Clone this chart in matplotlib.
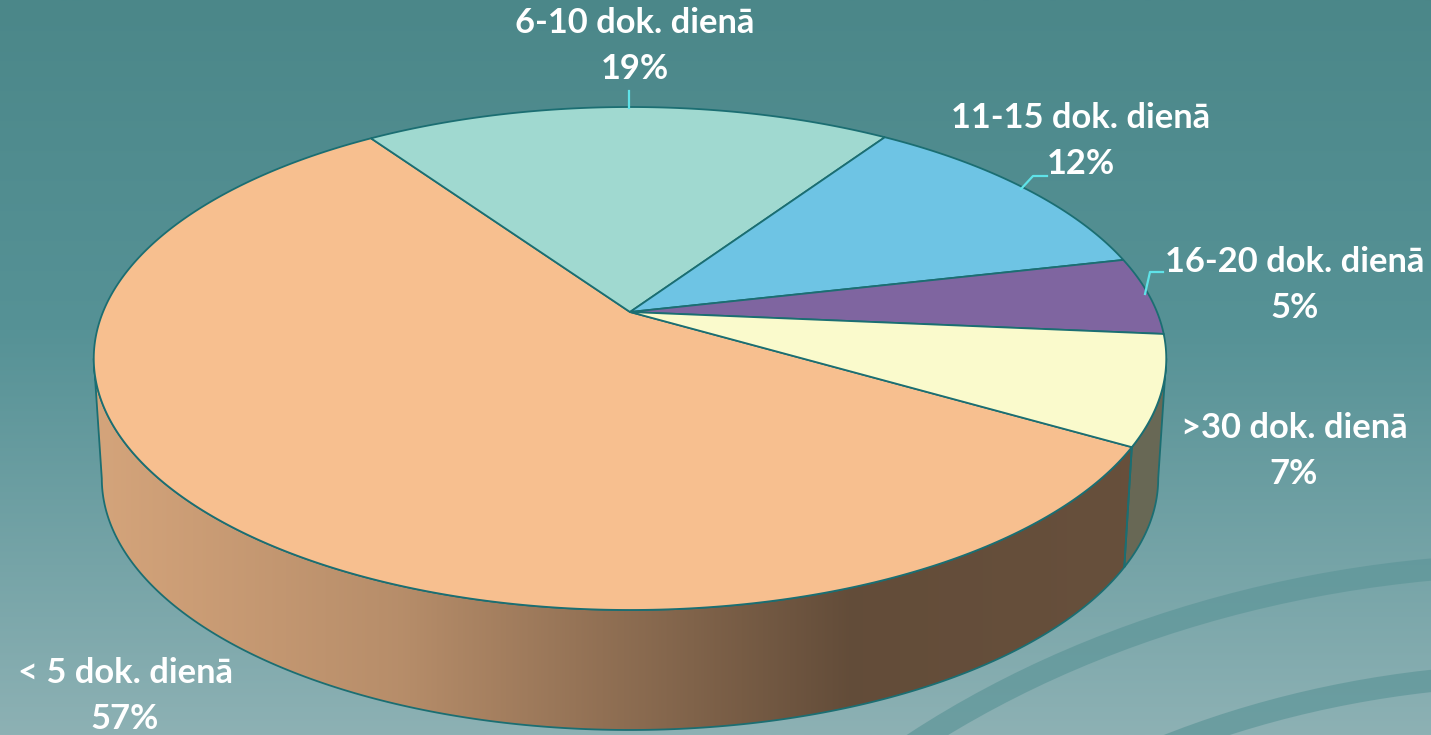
import numpy as np
import matplotlib.pyplot as plt
from matplotlib.patches import Polygon, Ellipse
from matplotlib.colors import LinearSegmentedColormap, to_rgb

# data
categories = ['< 5 dok. dienā', '6-10 dok. dienā', '11-15 dok. dienā',
              '16-20 dok. dienā', '>30 dok. dienā']
shares = [57, 19, 12, 5, 7]
top_colors = ['#F7BF8F', '#A0D9D0', '#6EC4E4', '#7F65A0', '#FAFACC']

# layout (pixels)
W, H = 1431, 735
cx, a = 630, 527            # centre x, half width of the top face
A, B, C = 185.2, 312, -0.1849   # perspective mapping for y
depth, shrink = 120, 0.985
start = 329.7               # degrees, slices go clockwise
edge = '#1B6E72'

label_pos = [(125, 696), (635, 46), (1081, 141), (1295, 285), (1294, 451)]
leaders = [None, [(629, 108), (629, 91)],
           [(1021, 189), (1033, 176), (1047, 176)],
           [(1145, 294), (1150, 272), (1163, 272)], None]


def top_pt(th):
    u, v = np.cos(th), -np.sin(th)
    d = 1 + C * v
    return cx + a * u / d, (A * v + B) / d


def bot_pt(th):
    x, y = top_pt(th)
    return cx + (x - cx) * shrink, y + depth


fig = plt.figure(figsize=(W / 100, H / 100), dpi=100)
ax = fig.add_axes([0, 0, 1, 1])
ax.set_xlim(0, W)
ax.set_ylim(H, 0)
ax.axis('off')

# background
bg = LinearSegmentedColormap.from_list('bg', [(0, '#4B8789'), (0.45, '#569296'), (1, '#8DB1B4')])
ax.imshow(np.linspace(0, 1, 256)[:, None], cmap=bg, aspect='auto',
          extent=(0, W, H, 0), zorder=0)
for s in (1.0, 0.85):
    ax.add_patch(Ellipse((1550, 1300), 2 * 972 * s, 2 * 736 * s, fill=False,
                         ec='#5E9699', lw=16, alpha=0.7, zorder=1))

# angles
bounds = []
th = start
for v in shares:
    bounds.append((th - v * 3.6, th))
    th -= v * 3.6

vis_hi = np.degrees(np.arcsin(C))
vis_lo = -180 - vis_hi

# sides
xs = np.linspace(0, W, 600)
shade = np.interp(xs, [95, 400, 850, 1170], [0.86, 0.74, 0.40, 0.42])
for (t1, t0), col in zip(bounds, top_colors):
    for k in (-1, 0, 1):
        lo = max(t1, vis_lo + 360 * k)
        hi = min(t0, vis_hi + 360 * k)
        if lo >= hi:
            continue
        t = np.radians(np.linspace(lo, hi, 200))
        tx, ty = top_pt(t)
        bx, by = bot_pt(t)
        pts = np.column_stack([np.r_[tx, bx[::-1]], np.r_[ty, by[::-1]]])
        poly = Polygon(pts, closed=True, fc='none', ec=edge, lw=1.3, zorder=3)
        ax.add_patch(poly)
        img = np.array(to_rgb(col))[None, None, :] * shade[None, :, None]
        im = ax.imshow(np.repeat(img, 2, axis=0), aspect='auto',
                       extent=(0, W, H, 0), zorder=2)
        im.set_clip_path(poly)

# top face
apex = (cx, B)
for (t1, t0), col in zip(bounds, top_colors):
    t = np.radians(np.linspace(t0, t1, 300))
    x, y = top_pt(t)
    pts = np.column_stack([np.r_[apex[0], x], np.r_[apex[1], y]])
    ax.add_patch(Polygon(pts, closed=True, fc=col, ec=edge, lw=1.3, zorder=4))

# labels
for name, v, (lx, ly), ld in zip(categories, shares, label_pos, leaders):
    for txt, dy in ((name, -23), (f'{v}%', 23)):
        ax.text(lx, ly + dy, txt, ha='center', va='center', color='white',
                fontsize=24.8, fontweight='bold', family='Lato', zorder=6)
    if ld:
        lx_, ly_ = zip(*ld)
        ax.plot(lx_, ly_, color='#5FE3E8', lw=1.6, zorder=5)

fig.savefig('out.png', dpi=100)
